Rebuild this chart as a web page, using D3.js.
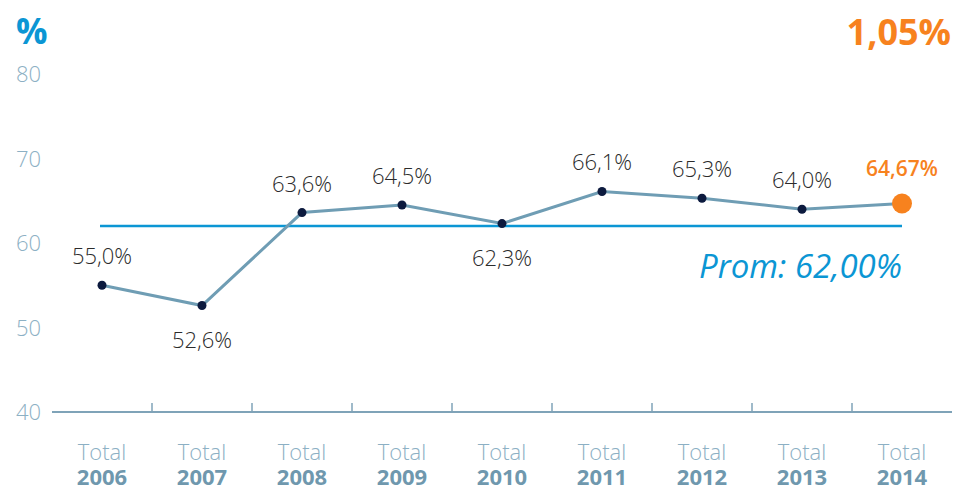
<!DOCTYPE html>
<html>
<head>
<meta charset="utf-8">
<script src="https://cdn.jsdelivr.net/npm/d3@7"></script>
<style>
  body { margin: 0; background: #fff; }
  svg text { font-family: "Open Sans", sans-serif; }
</style>
</head>
<body>
<svg id="chart" width="955" height="490"></svg>
<script>
// data
var years = ["2006", "2007", "2008", "2009", "2010", "2011", "2012", "2013", "2014"];
var values = [55.0, 52.6, 63.6, 64.5, 62.3, 66.1, 65.3, 64.0, 64.67];
var valueLabels = ["55,0%", "52,6%", "63,6%", "64,5%", "62,3%", "66,1%", "65,3%", "64,0%", "64,67%"];
var labelSide = ["above", "below", "above", "above", "below", "above", "above", "above", "above"];
var yTicks = [40, 50, 60, 70, 80];
var average = 62;
var averageLabel = "Prom: 62,00%";
var variation = "1,05%";

var svg = d3.select("#chart");

var x = d3.scaleBand().domain(years).range([52, 952]);
var y = d3.scaleLinear().domain([40, 80]).range([412, 74]);
var cx = function(d) { return x(d) + x.bandwidth() / 2; };

// y axis labels only
var yAxis = svg.append("g")
    .attr("transform", "translate(41,0)")
    .call(d3.axisLeft(y).tickValues(yTicks).tickSize(0).tickPadding(0));
yAxis.select(".domain").remove();
yAxis.selectAll("text")
    .attr("font-size", 22)
    .attr("font-weight", 300)
    .attr("fill", "#8cb0c4")
    .attr("dy", "0.35em");

// baseline axis with ticks between categories
svg.append("line")
    .attr("x1", x.range()[0]).attr("x2", x.range()[1])
    .attr("y1", y(40)).attr("y2", y(40))
    .attr("stroke", "#7fa3b8").attr("stroke-width", 2);
svg.append("g").selectAll("line")
    .data(years.slice(1))
    .enter().append("line")
    .attr("x1", function(d) { return x(d); })
    .attr("x2", function(d) { return x(d); })
    .attr("y1", y(40) - 9).attr("y2", y(40))
    .attr("stroke", "#7fa3b8").attr("stroke-width", 1.5);

// category labels
var cat = svg.append("g").selectAll("g")
    .data(years)
    .enter().append("g")
    .attr("transform", function(d) { return "translate(" + cx(d) + ",0)"; });
cat.append("text")
    .attr("y", 460).attr("text-anchor", "middle")
    .attr("font-size", 22).attr("font-weight", 300)
    .attr("fill", "#8cb0c4")
    .text("Total");
cat.append("text")
    .attr("y", 485).attr("text-anchor", "middle")
    .attr("font-size", 22).attr("font-weight", 700)
    .attr("fill", "#6f98ae")
    .text(function(d) { return d; });

// average line
svg.append("line")
    .attr("x1", cx(years[0]) - 2).attr("x2", cx(years[years.length - 1]))
    .attr("y1", y(average)).attr("y2", y(average))
    .attr("stroke", "#0b96d4").attr("stroke-width", 2.5);
svg.append("text")
    .attr("x", cx(years[years.length - 1])).attr("y", y(average) + 52)
    .attr("text-anchor", "end")
    .attr("font-size", 33).attr("font-style", "italic")
    .attr("fill", "#0b96d4")
    .text(averageLabel);

// series line
var pts = years.map(function(d, i) { return { year: d, value: values[i], label: valueLabels[i], side: labelSide[i] }; });
svg.append("path")
    .datum(pts)
    .attr("fill", "none")
    .attr("stroke", "#6f9db4").attr("stroke-width", 3)
    .attr("d", d3.line().x(function(d) { return cx(d.year); }).y(function(d) { return y(d.value); }));

var last = pts.length - 1;
svg.append("g").selectAll("circle")
    .data(pts)
    .enter().append("circle")
    .attr("cx", function(d) { return cx(d.year); })
    .attr("cy", function(d) { return y(d.value); })
    .attr("r", function(d, i) { return i == last ? 10 : 4.5; })
    .attr("fill", function(d, i) { return i == last ? "#f7821e" : "#0c1a3e"; });

svg.append("g").selectAll("text")
    .data(pts)
    .enter().append("text")
    .attr("x", function(d) { return cx(d.year); })
    .attr("y", function(d, i) {
      if (i == last) return y(d.value) - 28;
      return d.side == "above" ? y(d.value) - 21 : y(d.value) + 42;
    })
    .attr("text-anchor", "middle")
    .attr("font-size", function(d, i) { return i == last ? 21 : 22; })
    .attr("font-weight", function(d, i) { return i == last ? 600 : 300; })
    .attr("fill", function(d, i) { return i == last ? "#f7821e" : "#2b2b2b"; })
    .text(function(d) { return d.label; });

// header texts
svg.append("text")
    .attr("x", 16).attr("y", 44)
    .attr("font-size", 35).attr("font-weight", 700)
    .attr("fill", "#0b96d4")
    .text("%");
svg.append("text")
    .attr("x", 951).attr("y", 45)
    .attr("text-anchor", "end")
    .attr("font-size", 36).attr("font-weight", 700)
    .attr("fill", "#f7821e")
    .text(variation);
</script>
</body>
</html>
